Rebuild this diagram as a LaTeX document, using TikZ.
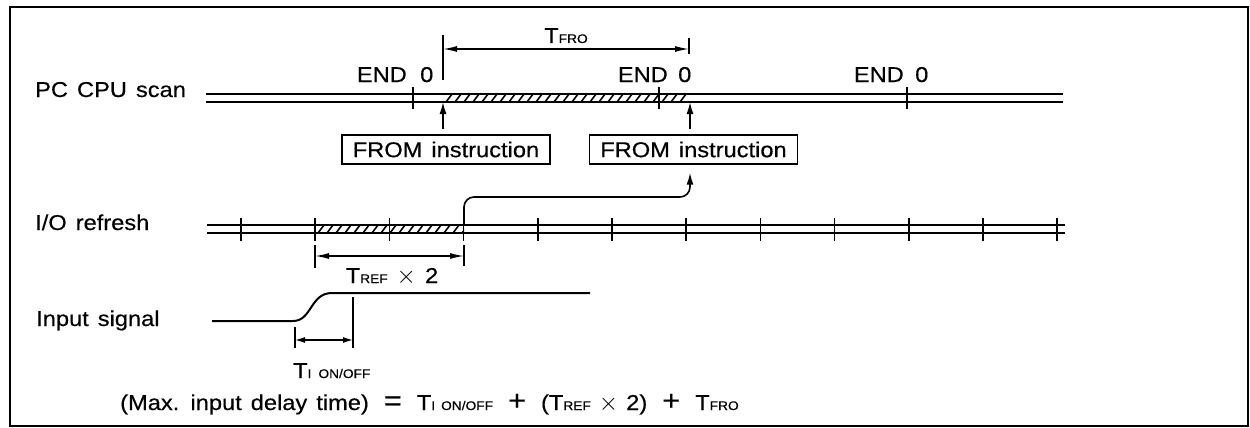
\documentclass[tikz,border=0pt]{standalone}
\usepackage{fontspec}
\setmainfont[FakeStretch=1.1,FakeBold=0.4]{Liberation Sans}
\usetikzlibrary{arrows.meta}
\newcommand\TS[1]{T{\fontsize{12.5}{12.5}\selectfont #1}}
\newcommand\opr[1]{\hspace{6pt}{\fontsize{28}{28}\selectfont #1}\hspace{6pt}}
\newcommand\crossop{{\fontsize{26}{26}\selectfont$\times$}}
\newcommand\labelfont{\fontsize{21.5}{25}\selectfont\spaceskip 9pt plus 2pt\relax}
\begin{document}
\begin{tikzpicture}[x=1pt,y=-1pt,
  txt/.style={font=\labelfont, inner sep=0pt},
  rail/.style={line width=2pt},
  tickmark/.style={line width=1.6pt},
  hatchline/.style={line width=1.6pt},
  extline/.style={line width=1.3pt},
  dimline/.style={line width=1.4pt, {Latex[length=14pt,width=6pt]}-{Latex[length=14pt,width=6pt]}},
  smalldim/.style={line width=1.4pt, {Latex[length=10pt,width=6pt]}-{Latex[length=10pt,width=6pt]}},
  fbox/.style={draw, line width=1.4pt, txt, minimum height=29pt, minimum width=208pt},
  uparrow/.style={line width=1.6pt, -{Latex[length=12pt,width=7pt]}},
  signal/.style={line width=2pt}
]
\useasboundingbox (0,0) rectangle (1250,428);
\draw[line width=2pt] (10,7) rectangle (1248,426);

% ---------------- PC CPU scan
\node[txt, anchor=base west] (cpu) at (35,97) {PC CPU scan};
\draw[rail] (206,94) -- (1063,94) (206,102) -- (1063,102);
\begin{scope}
  \clip (443,94) rectangle (689,102);
  \foreach \x in {437,446,...,700} \draw[hatchline] (\x,102) -- ++(6,-8);
\end{scope}
\foreach \x in {413,659,907} \draw[tickmark] (\x,87) -- (\x,109);

\node[txt, anchor=base east] (end1) at (407,82) {END};
\node[txt, anchor=base west] (zero1) at (420,82) {0};
\node[txt, anchor=base east] (end2) at (668,82) {END};
\node[txt, anchor=base west] (zero2) at (678,82) {0};
\node[txt, anchor=base east] (end3) at (904,82) {END};
\node[txt, anchor=base west] (zero3) at (915,82) {0};

\coordinate (fa) at (443,102);
\coordinate (fb) at (690,102);
\coordinate (dl) at (443,49);
\coordinate (dr) at (689,49);
\draw[extline] (443,35) -- (443,80);
\draw[extline] (689,38) -- (689,54);
\draw[dimline] (dl) -- (dr);
\node[txt, anchor=base] (tfro) at (566,43) {\TS{FRO}};

\node[fbox] (f1) at (446,149.5) {FROM instruction};
\node[fbox] (f2) at (693.5,149.5) {FROM instruction};
\draw[uparrow, shorten <=5pt] (f1.north -| fa) -- (fa);
\draw[uparrow, shorten <=5pt] (f2.north -| fb) -- (fb);

% ---------------- I/O refresh
\node[txt, anchor=base west] (io) at (35,230) {I/O refresh};
\draw[rail] (207,225) -- (1065,225) (207,233) -- (1065,233);
\begin{scope}
  \clip (315,225) rectangle (464,233);
  \foreach \x in {309,318,...,470} \draw[hatchline] (\x,233) -- ++(6,-8);
\end{scope}
\foreach \k in {0,...,11} \draw[tickmark] ({241+74.2*\k},218) -- ({241+74.2*\k},241);

\coordinate (rl) at (315,256);
\coordinate (rr) at (464,256);
\draw[extline] (315,245) -- (315,268);
\draw[extline] (464,245) -- (464,266);
\draw[dimline] (rl) -- (rr);
\node[txt, anchor=base] (tref) at (392,283) {\TS{REF}\hspace{9pt}\crossop\hspace{9pt}2};

\coordinate (ioc) at (464,225);
\draw[uparrow, rounded corners=10pt, shorten >=8pt] (ioc) -- (464,197) -- (690,197) -- (f2.south -| fb);

% ---------------- Input signal
\node[txt, anchor=base west] (ins) at (36,326) {Input signal};
\draw[signal] (212,321) -- (293,321) .. controls (312,321) and (310,293) .. (332,293) -- (590,293);
\coordinate (il) at (295,340);
\coordinate (ir) at (353,340);
\draw[extline] (295,327) -- (295,348);
\draw[extline] (353,297) -- (353,348);
\draw[smalldim] (il) -- (ir);
\node[txt, anchor=base west] (ti) at (293,378) {\TS{I\hspace{7pt}ON/OFF}};

\node[txt, anchor=base west] (formula) at (120,410)
  {(Max. input delay time) \opr{=} \TS{I\hspace{6pt}ON/OFF} \opr{+} (\TS{REF}\hspace{8pt}\crossop\hspace{8pt}2) \opr{+} \TS{FRO}};
\end{tikzpicture}
\end{document}
